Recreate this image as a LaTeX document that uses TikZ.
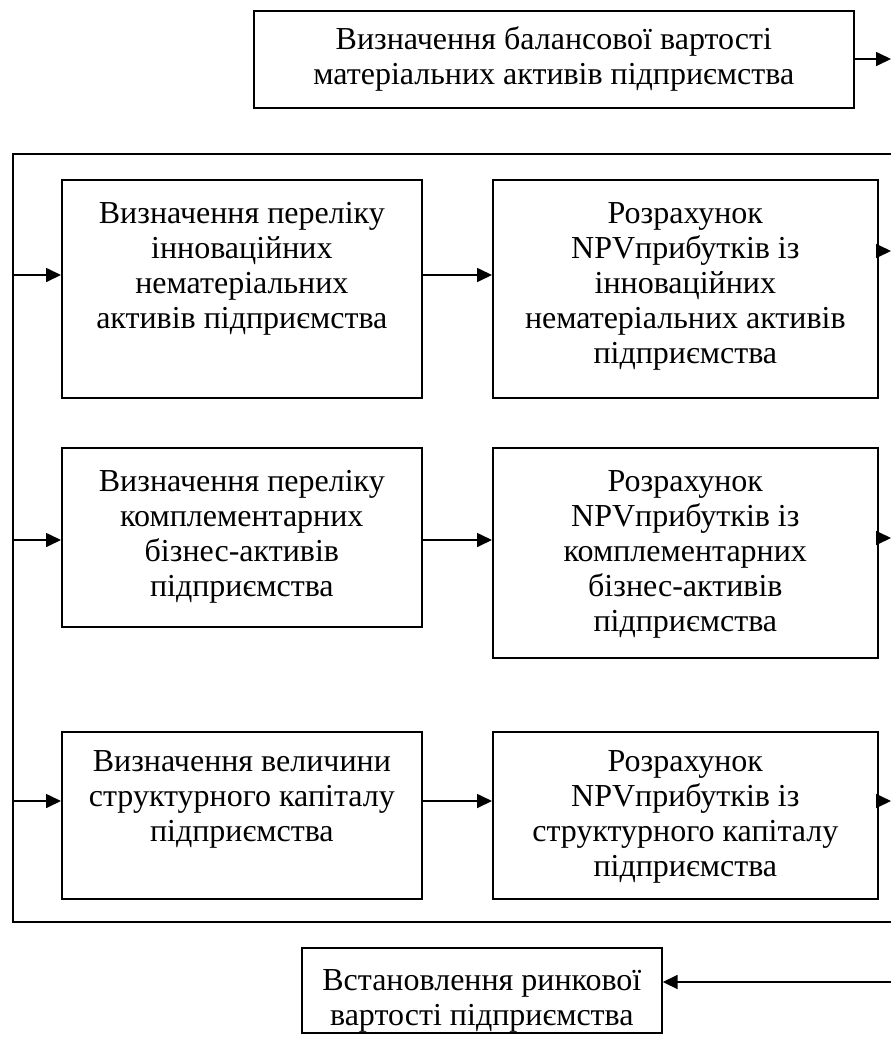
\documentclass[tikz,border=0pt]{standalone}
\usepackage{fontspec}
\setmainfont{Liberation Serif}
\usetikzlibrary{arrows.meta}

% boxed text: width, height, gap above the first line, lines
\newcommand{\cell}[4]{\parbox[c][#2pt][t]{#1pt}{\centering\vspace*{#3pt}\strut #4\par}}

\begin{document}
\begin{tikzpicture}[x=1pt, y=-1pt,
  ln/.style={line width=1.7pt, line cap=rect},
  blk/.style={draw, line width=1.7pt, inner sep=0pt, anchor=north west,
    font=\fontsize{32}{35}\selectfont},
  arr/.style={line width=1.7pt, -{Triangle[length=15pt,width=14pt]}}]
\useasboundingbox (0,0) rectangle (891,1039);

% top block
\node[blk] (top) at (253,10) {\cell{600}{97}{14}{Визначення балансової вартості\\матеріальних активів підприємства}};

% enclosing frame, open on the right
\draw[ln] (891,154) -- (13,154) -- (13,922) -- (891,922);

% row 1
\node[blk] (a) at (61,179) {\cell{360}{218}{19}{Визначення переліку\\інноваційних\\нематеріальних\\активів підприємства}};
\node[blk] (b) at (492,179) {\cell{385}{218}{19}{Розрахунок\\NPVприбутків із\\інноваційних\\нематеріальних активів\\підприємства}};

% row 2
\node[blk] (c) at (61,447) {\cell{360}{179}{19}{Визначення переліку\\комплементарних\\бізнес-активів\\підприємства}};
\node[blk] (d) at (492,447) {\cell{385}{210}{19}{Розрахунок\\NPVприбутків із\\комплементарних\\бізнес-активів\\підприємства}};

% row 3
\node[blk] (e) at (61,731) {\cell{360}{167}{15}{Визначення величини\\структурного капіталу\\підприємства}};
\node[blk] (f) at (492,731) {\cell{385}{167}{15}{Розрахунок\\NPVприбутків із\\структурного капіталу\\підприємства}};

% bottom block
\node[blk] (bot) at (301,947) {\cell{360}{85}{18}{Встановлення ринкової\\вартості підприємства}};

% points on the frame and on the right margin
\coordinate (l1) at (13,275);
\coordinate (l2) at (13,540);
\coordinate (l3) at (13,801);
\coordinate (r0) at (891,59);
\coordinate (r1) at (891,251);
\coordinate (r2) at (891,538);
\coordinate (r3) at (891,801);
\coordinate (r4) at (891,982);

% connectors
\draw[arr] (top.east |- r0) -- (r0);

\draw[arr] (l1) -- (a.west |- l1);
\draw[arr] (a.east |- l1) -- (b.west |- l1);
\draw[arr] (b.east |- r1) -- (r1);

\draw[arr] (l2) -- (c.west |- l2);
\draw[arr] (c.east |- l2) -- (d.west |- l2);
\draw[arr] (d.east |- r2) -- (r2);

\draw[arr] (l3) -- (e.west |- l3);
\draw[arr] (e.east |- l3) -- (f.west |- l3);
\draw[arr] (f.east |- r3) -- (r3);

\draw[arr] (r4) -- (bot.east |- r4);
\end{tikzpicture}
\end{document}
